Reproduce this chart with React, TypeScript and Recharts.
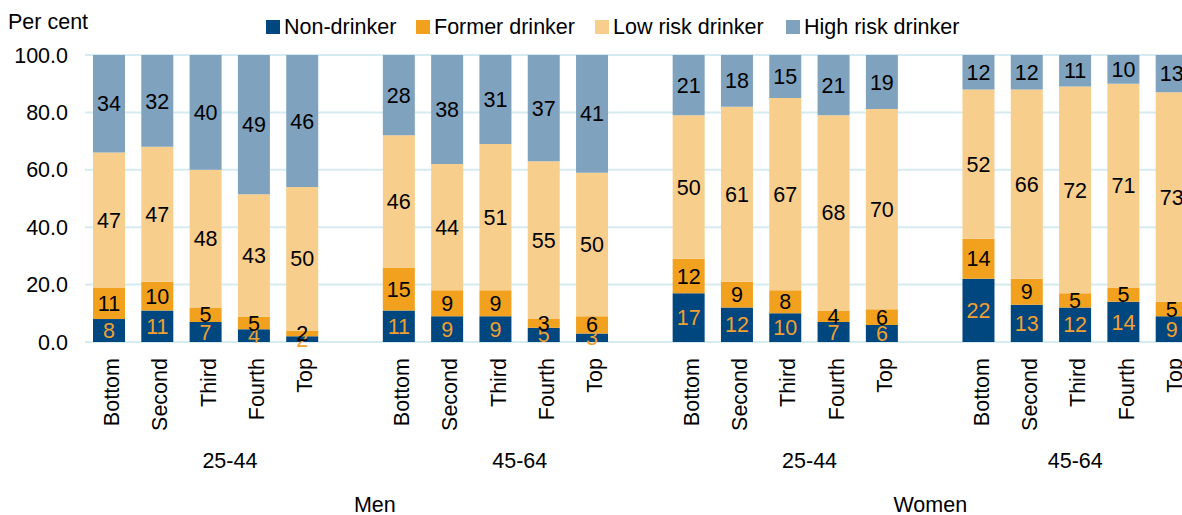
import { Bar, BarChart, CartesianGrid, LabelList, XAxis, YAxis } from "recharts";

const incomeLabels = ["Bottom", "Second", "Third", "Fourth", "Top"];
const ageGroups = ["25-44", "45-64", "25-44", "45-64"];
const sexGroups = ["Men", "Men", "Women", "Women"];

// one array per age/sex group, in income order
const nonDrinker = [
  [8, 11, 7, 4.4, 2],
  [11, 9, 9, 5, 3],
  [17, 12, 10, 7, 5.9],
  [22, 13, 12, 14, 9],
];
const formerDrinker = [
  [11, 10, 5, 4.5, 2],
  [15, 9, 9, 3, 6],
  [12, 9, 8, 4, 5.5],
  [14, 9, 5, 5, 5],
];
const lowRisk = [
  [47, 47, 48, 42.6, 50],
  [46, 44, 51, 55, 50],
  [50, 61, 67, 68, 69.8],
  [52, 66, 72, 71, 73],
];
const highRisk = [
  [34, 32, 40, 48.5, 46],
  [28, 38, 31, 37, 41],
  [21, 18, 15, 21, 18.8],
  [12, 12, 11, 10, 13],
];

const yTicks = [0, 20, 40, 60, 80, 100];

const colors = {
  non: "#00467f",
  former: "#f2a11f",
  low: "#f8ce8c",
  high: "#7fa2bf",
};
const nonLabelColor = "#f0a030";
const FONT = "Arial, 'Liberation Sans', sans-serif";
const FS = 21.5;

// rows, with a blank slot after each group except the last (blank belongs to the group before)
const rows: any[] = [];
ageGroups.forEach((age, g) => {
  incomeLabels.forEach((inc, i) => {
    rows.push({
      key: `${g}-${i}`,
      income: inc,
      age: g,
      sex: sexGroups[g],
      non: nonDrinker[g][i],
      former: formerDrinker[g][i],
      low: lowRisk[g][i],
      high: highRisk[g][i],
    });
  });
  if (g < ageGroups.length - 1) {
    rows.push({ key: `${g}-blank`, income: "", age: g, sex: sexGroups[g] });
  }
});

const CHART_W = 1200;
const CHART_H = 515;
const Y_W = 85;
const M_RIGHT = 4;
const slotW = (CHART_W - Y_W - M_RIGHT) / rows.length;

function spanOf(pred: (r: any) => boolean) {
  const idx = rows.map((r, i) => (pred(r) ? i : -1)).filter((i) => i >= 0);
  return { first: idx[0], last: idx[idx.length - 1] };
}

function CategoryTick(props: any) {
  const { x, y, payload } = props;
  const i = props.index ?? payload.index;
  const row = rows[i];
  if (!row) return null;
  const ageSpan = spanOf((r) => r.age === row.age);
  const sexSpan = spanOf((r) => r.sex === row.sex);
  const top = y + 16;
  return (
    <g fontFamily={FONT} fontSize={FS} fill="#000">
      {row.income && (
        <text
          x={x}
          y={top}
          dy={10}
          textAnchor="end"
          transform={`rotate(-90, ${x}, ${top})`}
        >
          {row.income}
        </text>
      )}
      {ageSpan.first === i && (
        <text
          x={x + ((ageSpan.first + ageSpan.last) / 2 - i) * slotW}
          y={y + 126}
          textAnchor="middle"
        >
          {ageGroups[row.age]}
        </text>
      )}
      {sexSpan.first === i && (
        <text
          x={x + ((sexSpan.first + sexSpan.last) / 2 - i) * slotW}
          y={y + 170}
          textAnchor="middle"
        >
          {row.sex}
        </text>
      )}
    </g>
  );
}

const fmt = (v: any) => (v == null ? "" : Math.round(Number(v)));

const legendItems = [
  { name: "Non-drinker", color: colors.non, x: 266 },
  { name: "Former drinker", color: colors.former, x: 416 },
  { name: "Low risk drinker", color: colors.low, x: 595 },
  { name: "High risk drinker", color: colors.high, x: 786 },
];

export default function App() {
  return (
    <div
      style={{
        position: "absolute",
        left: 0,
        top: 0,
        width: 1182,
        height: 515,
        overflow: "hidden",
        background: "#fff",
        fontFamily: FONT,
      }}
    >
      <BarChart
        width={CHART_W}
        height={CHART_H}
        data={rows}
        margin={{ top: 55, right: M_RIGHT, left: 0, bottom: 13 }}
      >
        <CartesianGrid vertical={false} stroke="#d6ebf1" strokeWidth={2} />
        <XAxis
          dataKey="key"
          type="category"
          interval={0}
          height={160}
          axisLine={false}
          tickLine={false}
          tickSize={0}
          tickMargin={0}
          tick={<CategoryTick />}
        />
        <YAxis
          width={Y_W}
          domain={[0, 100]}
          ticks={yTicks}
          axisLine={false}
          tickLine={false}
          tickSize={0}
          tickMargin={17}
          tickFormatter={(v: number) => v.toFixed(1)}
          tick={{ fill: "#000", fontSize: FS, fontFamily: FONT }}
        />
        <Bar dataKey="non" stackId="a" fill={colors.non} barSize={32} isAnimationActive={false}>
          <LabelList dataKey="non" position="center" formatter={fmt} fill={nonLabelColor} fontSize={FS} fontFamily={FONT} />
        </Bar>
        <Bar dataKey="former" stackId="a" fill={colors.former} barSize={32} isAnimationActive={false}>
          <LabelList dataKey="former" position="center" formatter={fmt} fill="#000" fontSize={FS} fontFamily={FONT} />
        </Bar>
        <Bar dataKey="low" stackId="a" fill={colors.low} barSize={32} isAnimationActive={false}>
          <LabelList dataKey="low" position="center" formatter={fmt} fill="#000" fontSize={FS} fontFamily={FONT} />
        </Bar>
        <Bar dataKey="high" stackId="a" fill={colors.high} barSize={32} isAnimationActive={false}>
          <LabelList dataKey="high" position="center" formatter={fmt} fill="#000" fontSize={FS} fontFamily={FONT} />
        </Bar>
      </BarChart>

      <svg
        width={1182}
        height={50}
        style={{ position: "absolute", left: 0, top: 0, pointerEvents: "none" }}
        fontFamily={FONT}
        fontSize={FS}
      >
        <text x={8} y={29} fill="#000">
          Per cent
        </text>
        {legendItems.map((it) => (
          <g key={it.name}>
            <rect x={it.x} y={20} width={14} height={14} fill={it.color} />
            <text x={it.x + 18} y={34} fill="#000">
              {it.name}
            </text>
          </g>
        ))}
      </svg>
    </div>
  );
}
